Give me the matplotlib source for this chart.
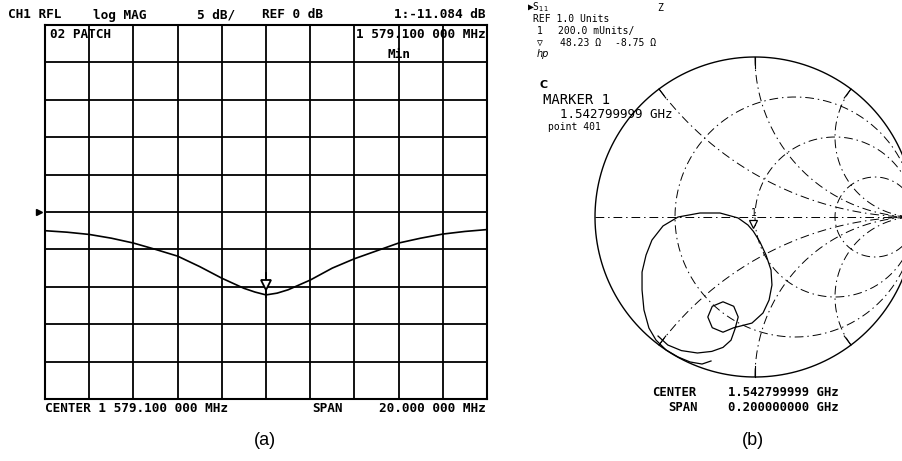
import numpy as np
import matplotlib.pyplot as plt
from matplotlib import transforms

# ---- CH1 return loss sweep (log MAG, 5 dB/div, REF 0 dB) ----
freq_mhz = [1569.1, 1570.1, 1571.1, 1572.1, 1573.1, 1574.1, 1575.1, 1576.1,
            1577.1, 1578.1, 1578.6, 1579.1, 1579.6, 1580.1, 1581.1, 1582.1,
            1583.1, 1584.1, 1585.1, 1586.1, 1587.1, 1588.1, 1589.1]
s11_db = [-2.5, -2.7, -3.0, -3.5, -4.15, -5.0, -5.9, -7.3,
          -8.85, -10.2, -10.7, -11.084, -10.85, -10.4, -9.1, -7.5,
          -6.25, -5.2, -4.15, -3.5, -2.95, -2.6, -2.35]
center_mhz = 1579.1
span_mhz = 20.0
db_per_div = 5
ref_db = 0
min_db = -11.084

# ---- S11 on the Smith chart (reflection coefficient) ----
gamma_re = [-0.275, -0.331, -0.406, -0.481, -0.556, -0.619, -0.663, -0.694,
            -0.706, -0.706, -0.681, -0.644, -0.575, -0.481, -0.344, -0.219,
            -0.106, -0.044, -0.010, 0.031, 0.069, 0.100, 0.106, 0.088,
            0.050, -0.019, -0.085, -0.133,
            -0.200, -0.267, -0.295, -0.267, -0.200, -0.133, -0.105, -0.125,
            -0.150, -0.200, -0.270, -0.360, -0.460, -0.545, -0.606]
gamma_im = [-0.900, -0.919, -0.906, -0.875, -0.831, -0.769, -0.694, -0.581,
            -0.456, -0.344, -0.238, -0.144, -0.056, 0.000, 0.025, 0.025,
            -0.006, -0.050, -0.090, -0.156, -0.238, -0.331, -0.425, -0.519,
            -0.600, -0.663, -0.680, -0.692,
            -0.720, -0.692, -0.625, -0.558, -0.530, -0.558, -0.625, -0.700,
            -0.770, -0.815, -0.840, -0.850, -0.835, -0.800, -0.744]
marker_r = 48.23
marker_x = -8.75
z0 = 50.0
r_circles = [1 / 3, 1, 3]
x_arcs = [0.5, 1, 2]

W, H = 903, 461
fig = plt.figure(figsize=(W / 100, H / 100), dpi=100)
mono = ['DejaVu Sans Mono', 'DejaVu Sans']


def px_axes(x0, y0, x1, y1):
    return fig.add_axes([x0 / W, 1 - y1 / H, (x1 - x0) / W, (y1 - y0) / H])


def ftext(x, y, s, **kw):
    kw.setdefault('family', mono)
    kw.setdefault('va', 'center')
    return fig.text(x / W, 1 - y / H, s, **kw)


# ================= (a) log MAG =================
ax = px_axes(45, 25, 487, 399)
ax.set_xlim(center_mhz - span_mhz / 2, center_mhz + span_mhz / 2)
ax.set_ylim(ref_db - 5 * db_per_div, ref_db + 5 * db_per_div)
ax.set_xticks(np.linspace(center_mhz - span_mhz / 2, center_mhz + span_mhz / 2, 11))
ax.set_yticks(np.linspace(ref_db - 5 * db_per_div, ref_db + 5 * db_per_div, 11))
ax.grid(True, color='k', lw=1.3)
ax.tick_params(length=0, labelbottom=False, labelleft=False)
for sp in ax.spines.values():
    sp.set_linewidth(1.5)

ax.plot(freq_mhz, s11_db, color='k', lw=1.2)

# marker 1 at the minimum
tri = transforms.offset_copy(ax.transData, fig=fig, y=7, units='points')
ax.plot([center_mhz, center_mhz], [min_db - 0.3, min_db + 2.9], color='k', lw=1.3)
ax.plot(center_mhz, min_db, marker='v', ms=6.5, mfc='white', mec='k', mew=1.3,
        transform=tri)

# reference level pointer
ref_tr = transforms.offset_copy(
    transforms.blended_transform_factory(ax.transAxes, ax.transData),
    fig=fig, x=-4, units='points')
ax.plot(0, ref_db, marker='>', ms=4, color='k', clip_on=False, transform=ref_tr)

hdr = dict(size=9.2, weight='bold')
ftext(8, 15, 'CH1 RFL', **hdr)
ftext(93, 15, 'log MAG', **hdr)
ftext(197, 15, f'{db_per_div} dB/', **hdr)
ftext(262, 15, f'REF {ref_db} dB', **hdr)
ftext(486, 15, f'1:{min_db:.3f} dB', ha='right', **hdr)
ftext(50, 35, '02 PATCH', **hdr)
ftext(486, 35, '1 579.100 000 MHz', ha='right', **hdr)
ftext(388, 54, 'Min', **hdr)
ftext(45, 408, 'CENTER 1 579.100 000 MHz', **hdr)
ftext(312, 408, 'SPAN', **hdr)
ftext(486, 408, '20.000 000 MHz', ha='right', **hdr)
ftext(265, 440, '(a)', family='Liberation Sans', size=13, ha='center')

# ================= (b) Smith chart =================
sx = px_axes(595, 57, 915, 377)
sx.set_xlim(-1, 1)
sx.set_ylim(-1, 1)
sx.axis('off')

grid_ls = (0, (9, 4, 1.5, 4))
big = np.logspace(-3, 3, 600)
for r in r_circles:
    xs = np.concatenate([-big[::-1], big])
    g = (r + 1j * xs - 1) / (r + 1j * xs + 1)
    sx.plot(g.real, g.imag, color='k', lw=0.7, ls=grid_ls, clip_on=False)
for x in x_arcs:
    for sgn in (1, -1):
        rs = np.concatenate([[0], big])
        g = (rs + 1j * sgn * x - 1) / (rs + 1j * sgn * x + 1)
        sx.plot(g.real, g.imag, color='k', lw=0.7, ls=grid_ls, clip_on=False)
        e = g[0]
        sx.plot([0.93 * e.real, e.real], [0.93 * e.imag, e.imag],
                color='k', lw=0.8, clip_on=False)
sx.plot([-1, 1], [0, 0], color='k', lw=0.7, ls=grid_ls, clip_on=False)
th = np.linspace(0, 2 * np.pi, 400)
sx.plot(np.cos(th), np.sin(th), color='k', lw=1.0, clip_on=False)

sx.plot(gamma_re, gamma_im, color='k', lw=0.9, clip_on=False)

zm = complex(marker_r, marker_x) / z0
gm = (zm - 1) / (zm + 1)
mtri = transforms.offset_copy(sx.transData, fig=fig, y=5, units='points')
sx.plot(gm.real, gm.imag, marker='v', ms=6, mfc='white', mec='k', mew=0.9,
        transform=mtri)
mlab = transforms.offset_copy(sx.transData, fig=fig, y=13, units='points')
sx.text(gm.real, gm.imag, '1', family=mono, size=7, ha='center', va='center',
        transform=mlab)

st = dict(size=7)
ftext(527, 7, '▶S$_{11}$', **st)
ftext(657, 8, 'Z', **st)
ftext(533, 19.5, 'REF 1.0 Units', **st)
ftext(537, 31, '1', **st)
ftext(558, 31, '200.0 mUnits/', **st)
ftext(537, 42.5, '▽', **st)
ftext(560, 42.5, f'{marker_r:.2f} Ω', **st)
ftext(615, 42.5, f'{marker_x:.2f} Ω', **st)
ftext(537, 54, 'hp', family='DejaVu Sans', style='italic', size=7)
ftext(540, 84.5, 'C', family='DejaVu Sans', weight='bold', size=8)
ftext(543, 99.5, 'MARKER 1', size=10)
ftext(560, 115, '1.542799999 GHz', size=9)
ftext(548, 127, 'point 401', size=7)
ftext(652, 392, 'CENTER', size=8.8, weight='bold')
ftext(728, 392, '1.542799999 GHz', size=8.8, weight='bold')
ftext(668, 407, 'SPAN', size=8.8, weight='bold')
ftext(728, 407, '0.200000000 GHz', size=8.8, weight='bold')
ftext(753, 440, '(b)', family='Liberation Sans', size=13, ha='center')

fig.savefig('out.png', dpi=100)
